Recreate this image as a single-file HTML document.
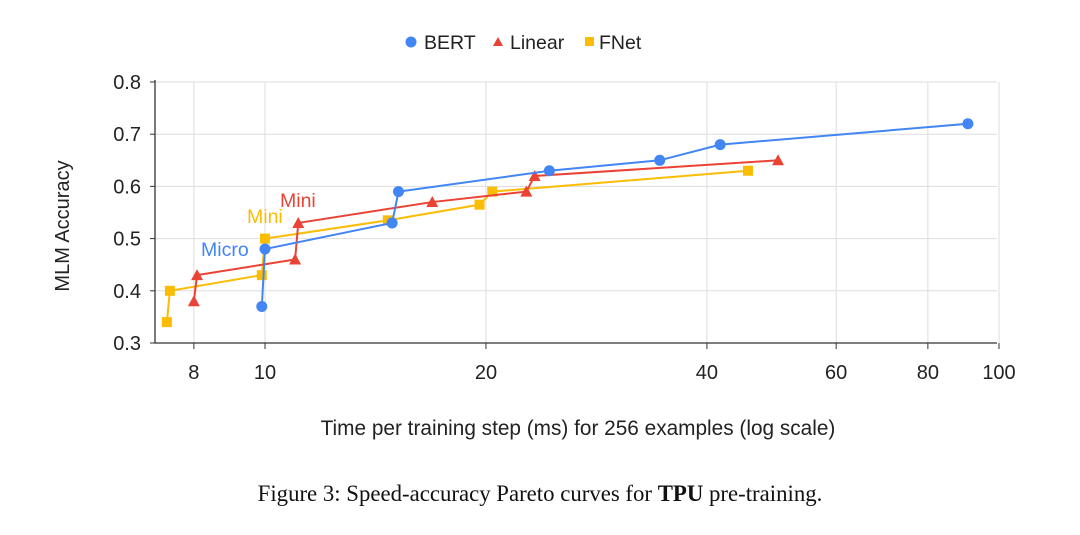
<!DOCTYPE html>
<html><head><meta charset="utf-8"><style>
body{margin:0;background:#fff;width:1080px;height:530px;overflow:hidden}
svg text{font-family:"Liberation Sans",sans-serif}
</style></head><body>
<svg id="chart" width="1080" height="530" viewBox="0 0 1080 530">
<g id="grid"></g><g id="axes"></g><g id="series"></g>
<g>
<circle cx="411" cy="42" r="5.5" fill="#4285f4"/><text x="424" y="49" font-size="19.5" fill="#222">BERT</text>
<path d="M498,37 L503,46 L493,46Z" fill="#ea4335"/><text x="510" y="49" font-size="19.5" fill="#222">Linear</text>
<rect x="585" y="37" width="9" height="9" fill="#fbbc04"/><text x="599" y="49" font-size="19.5" fill="#222">FNet</text>
</g>
<text x="201" y="256" font-size="19.5" fill="#4285f4">Micro</text>
<text x="247" y="223" font-size="19.5" fill="#fbbc04">Mini</text>
<text x="280" y="207" font-size="19.5" fill="#ea4335">Mini</text>
<text transform="translate(69,226) rotate(-90)" text-anchor="middle" font-size="20" fill="#222">MLM Accuracy</text>
<text x="578" y="435" text-anchor="middle" font-size="20.8" fill="#222">Time per training step (ms) for 256 examples (log scale)</text>
<text x="540" y="501" text-anchor="middle" font-size="22.8" fill="#111" style="font-family:'Liberation Serif',serif">Figure 3: Speed-accuracy Pareto curves for <tspan font-weight="bold">TPU</tspan> pre-training.</text>
</svg>
<script>
const xTicks=[8,10,20,40,60,80,100];
const yTicks=[0.3,0.4,0.5,0.6,0.7,0.8];
const bertX=[9.9,10,14.9,15.2,24.4,34.5,41.7,90.7];
const bertY=[0.37,0.48,0.53,0.59,0.63,0.65,0.68,0.72];
const linX=[8.0,8.08,10.99,11.1,16.9,22.7,23.3,50];
const linY=[0.38,0.43,0.46,0.53,0.57,0.59,0.62,0.65];
const fnetX=[7.35,7.42,9.9,10,14.7,19.6,20.4,45.5];
const fnetY=[0.34,0.40,0.43,0.50,0.535,0.565,0.59,0.63];
const NS='http://www.w3.org/2000/svg';
const L=155,R=997,T=82,B=343;
const xs=v=>265+734*(Math.log10(v)-1);
const ys=v=>B-(v-0.3)/0.5*(B-T);
function mk(tag,at,parent){const e=document.createElementNS(NS,tag);for(const k in at)e.setAttribute(k,at[k]);document.getElementById(parent).appendChild(e);return e;}
yTicks.forEach(v=>{
 const g=mk('line',{x1:L,x2:R,y1:ys(v),y2:ys(v),stroke:'#ddd','stroke-width':1},'grid');
 
 
 const t=mk('text',{x:141,y:ys(v)+7,'text-anchor':'end','font-size':20,fill:'#222'},'axes');t.textContent=v.toFixed(1);
 
 
 mk('line',{x1:L-5,x2:L,y1:ys(v),y2:ys(v),stroke:'#333'},'axes');
});
xTicks.forEach(v=>{
 const g=mk('line',{x1:xs(v),x2:xs(v),y1:T,y2:B,stroke:'#ddd','stroke-width':1},'grid');
 
 
 const t=mk('text',{x:xs(v),y:379,'text-anchor':'middle','font-size':20,fill:'#222'},'axes');t.textContent=v;
 
 
 mk('line',{x1:xs(v),x2:xs(v),y1:B,y2:B+6,stroke:'#333'},'axes');
});
const ax=mk('path',{d:`M${L},${T-2} L${L},${B} L${R},${B}`,stroke:'#333','stroke-width':1.3,fill:'none'},'axes');


function series(X,Y,color,shape,name){
 const pl=mk('polyline',{points:X.map((x,i)=>xs(x)+','+ys(Y[i])).join(' '),fill:'none',stroke:color,'stroke-width':2},'series');
 
 
 X.forEach((x,i)=>{const cx=xs(x),cy=ys(Y[i]);let m;
  if(shape==='c')m=mk('circle',{cx,cy,r:5.5,fill:color},'series');
  else if(shape==='t')m=mk('path',{d:`M${cx},${cy-6} L${cx+6},${cy+5} L${cx-6},${cy+5}Z`,fill:color},'series');
  else m=mk('rect',{x:cx-5,y:cy-5,width:10,height:10,fill:color},'series');
  
  
 });
}
series(fnetX,fnetY,'#fbbc04','s','fnet');
series(linX,linY,'#ea4335','t','linear');
series(bertX,bertY,'#4285f4','c','bert');
</script>
</body></html>
